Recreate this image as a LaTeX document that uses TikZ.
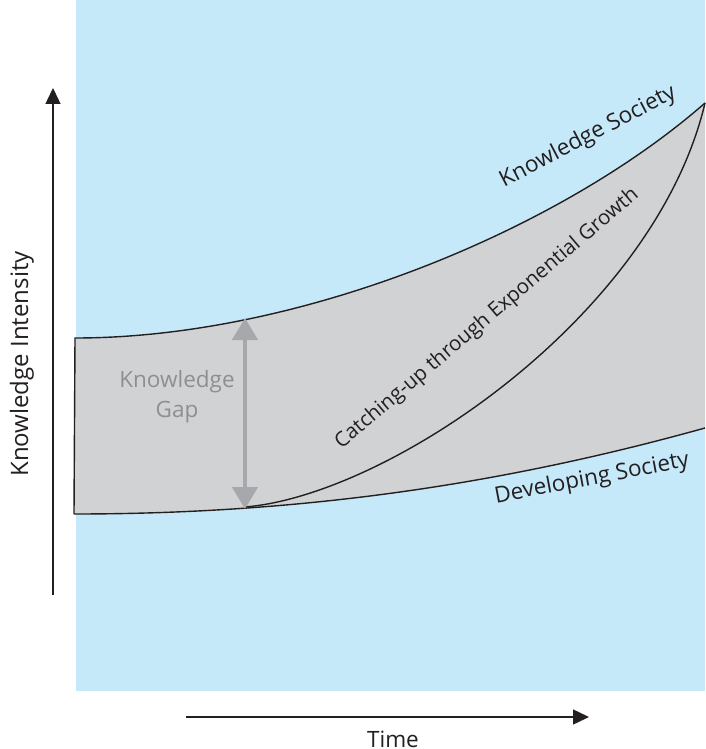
\documentclass[tikz,border=0pt]{standalone}
\usepackage{fontspec}
\setmainfont{Open Sans}
\usetikzlibrary{arrows.meta}
\definecolor{bgblue}{HTML}{C6E9F9}
\definecolor{bandgray}{HTML}{D1D2D4}
\definecolor{arrowgray}{HTML}{A7A8AB}
\definecolor{textgray}{HTML}{8E8F92}
\definecolor{ink}{HTML}{231F20}
\tikzset{
  curve/.style={draw=ink, line width=1.4pt},
  axis/.style={draw=ink, line width=1.4pt, -{Triangle[length=16pt,width=15pt]}},
  lbl/.style={font=\fontsize{22.5}{26}\selectfont, text=ink, inner sep=0pt},
}
\begin{document}
\begin{tikzpicture}[x=1pt,y=-1pt]
\useasboundingbox (0,0) rectangle (705,749);
\fill[bgblue] (76,0) rectangle (705,691);
% coordinates
\coordinate (tl) at (75,338);
\coordinate (bl) at (74,514);
\coordinate (tr) at (705,103);
\coordinate (br) at (705,428);
\coordinate (j) at (245,507);
% band
\fill[bandgray] (tl) .. controls (300,338) and (560,230) .. (tr) -- (br)
   .. controls (500,485) and (300,514) .. (bl) -- cycle;
\draw[curve] (bl) -- (tl) .. controls (300,338) and (560,230) .. (tr);
\draw[curve] (bl) .. controls (300,514) and (500,485) .. (br);
\draw[curve] (j) .. controls (390,495) and (655,315) .. (tr);
% knowledge gap arrow
\coordinate (gt) at (245,318);
\coordinate (gb) at (245,509);
\draw[draw=arrowgray, line width=4.5pt, {Triangle[length=22pt,width=25pt]}-{Triangle[length=22pt,width=25pt]}] (gt) -- (gb);
\node[lbl, text=textgray, align=center, font=\fontsize{22.5}{30}\selectfont] (gap) at (177,397) {Knowledge\\Gap};
% axes
\coordinate (ya0) at (53,595);
\coordinate (ya1) at (53,88);
\draw[axis] (ya0) -- (ya1);
\coordinate (xa0) at (186,717);
\coordinate (xa1) at (589,717);
\draw[axis] (xa0) -- (xa1);
\node[lbl, rotate=90, font=\fontsize{24}{28}\selectfont] (ylab) at (22,364) {Knowledge Intensity};
\node[lbl] (xlab) at (393,739) {Time};
% curve labels
\node[lbl, rotate=27.6] (ks) at (588,137) {Knowledge Society};
\node[lbl, rotate=40.3, font=\fontsize{20.5}{24}\selectfont] (cu) at (487,319) {Catching-up through Exponential Growth};
\node[lbl, rotate=10.7] (ds) at (592,479) {Developing Society};
\end{tikzpicture}
\end{document}
